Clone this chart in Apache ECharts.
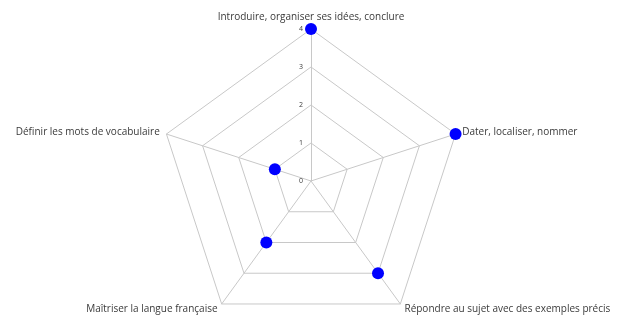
<!DOCTYPE html>
<html>
<head>
    <meta charset="utf-8"/>
    <title>Radar</title>
    <script src="https://cdn.jsdelivr.net/npm/echarts@6/dist/echarts.min.js"></script>
    <style>
        html, body { margin: 0; padding: 0; background: #fff; }
        #chart { width: 617px; height: 318px; }
    </style>
</head>
<body>
<div id="chart"></div>
<script>
    // indicator order goes counter-clockwise from the top
    var indicators = [
        'Introduire, organiser ses idées, conclure',
        'Définir les mots de vocabulaire',
        'Maîtriser la langue française',
        'Répondre au sujet avec des exemples précis',
        'Dater, localiser, nommer'
    ];
    var scores = [4, 1, 2, 3, 4];
    var maxScore = 4;
    var tickLabels = ['0', '1', '2', '3', '4'];

    var center = [311, 181];
    var radius = 152;

    var myChart = echarts.init(document.getElementById('chart'));
    var option = {
        animation: false,
        radar: {
            center: center,
            radius: radius,
            startAngle: 90,
            splitNumber: 4,
            shape: 'polygon',
            indicator: indicators.map(function (n) { return {name: n, max: maxScore, min: 0}; }),
            axisName: {
                color: '#3a3a3a',
                fontSize: 10,
                fontFamily: 'Open Sans'
            },
            nameGap: 7,
            axisLine: {lineStyle: {color: '#c8c8c8', width: 1}},
            splitLine: {lineStyle: {color: '#c8c8c8', width: 1}},
            splitArea: {show: false},
            axisTick: {show: false},
            axisLabel: {show: false}
        },
        polar: {center: center, radius: radius},
        angleAxis: {
            type: 'value', startAngle: 90, min: 0, max: 360,
            show: false
        },
        radiusAxis: {
            type: 'category',
            data: tickLabels,
            boundaryGap: false,
            axisLine: {show: false},
            axisTick: {show: false},
            splitLine: {show: false},
            axisLabel: {
                show: true, color: '#3a3a3a', fontSize: 7,
                fontFamily: 'Open Sans', margin: 8
            }
        },
        series: [{
            type: 'radar',
            symbol: 'circle',
            symbolSize: 12,
            lineStyle: {width: 0, opacity: 0},
            itemStyle: {color: '#0000ff'},
            data: [{value: scores}]
        }]
    };
    myChart.setOption(option);
</script>
</body>
</html>
